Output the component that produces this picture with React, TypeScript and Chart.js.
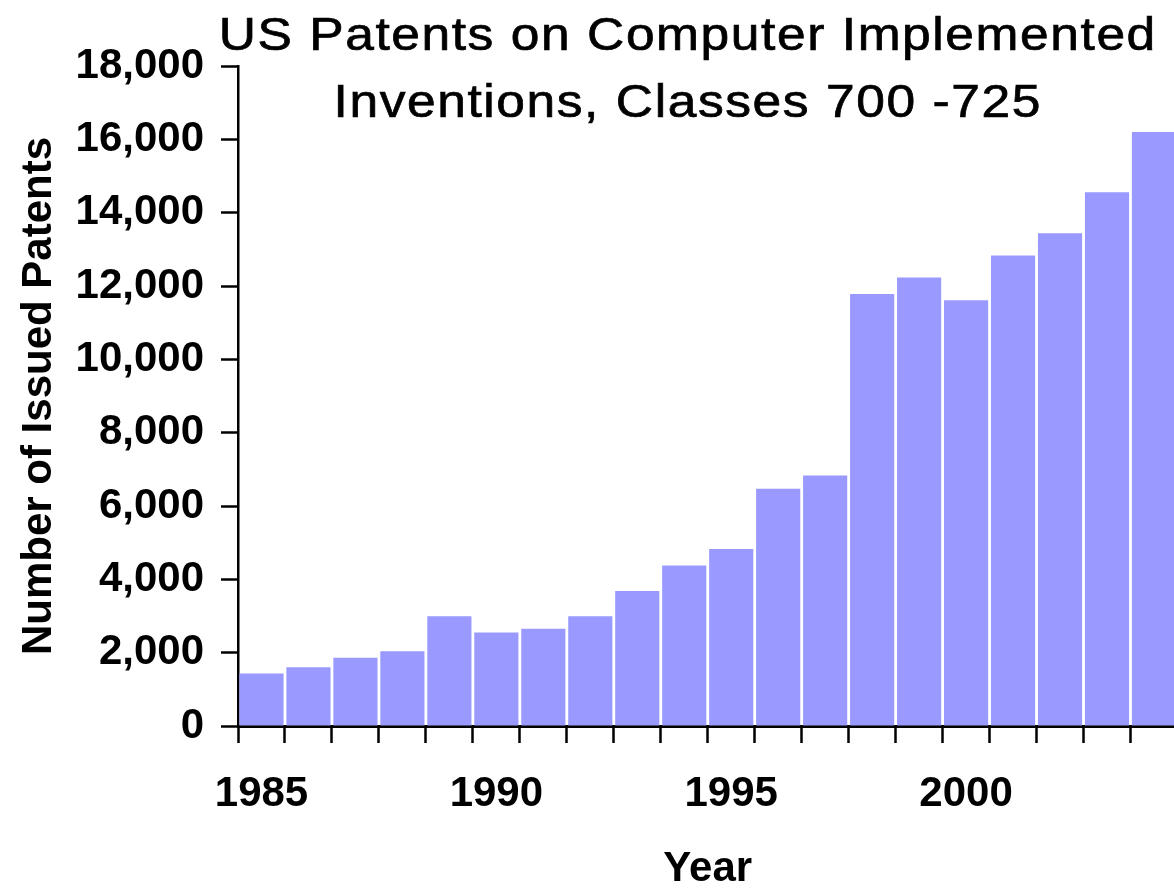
import React, { useEffect, useRef } from "react";
import { Chart, registerables } from "chart.js";

Chart.register(...registerables);

const years: number[] = [1985, 1986, 1987, 1988, 1989, 1990, 1991, 1992, 1993, 1994, 1995, 1996, 1997, 1998, 1999, 2000, 2001, 2002, 2003, 2004];
const patents: number[] = [1430, 1600, 1860, 2040, 2990, 2550, 2650, 2990, 3680, 4380, 4830, 6470, 6830, 11780, 12230, 11610, 12830, 13440, 14560, 16200];
const titleLines: string[] = ["US Patents on Computer Implemented", "Inventions, Classes 700 -725"];
const yTitle = "Number of Issued Patents";
const xTitle = "Year";

const FONT = "'Liberation Sans', Arial, sans-serif";

const titlePlugin = {
  id: "overlayTitle",
  afterDraw(chart: any) {
    const { ctx, chartArea } = chart;
    const sx = 1.12;
    ctx.save();
    ctx.font = `46px ${FONT}`;
    (ctx as any).letterSpacing = "1.4px";
    ctx.fillStyle = "#000";
    ctx.strokeStyle = "#000";
    ctx.lineWidth = 0.7;
    ctx.textAlign = "center";
    ctx.textBaseline = "alphabetic";
    const cx = (chartArea.left + chartArea.right) / 2 - 20;
    ctx.translate(cx, 0);
    ctx.scale(sx, 1);
    ctx.fillText(titleLines[0], 0, chartArea.top - 16);
    ctx.strokeText(titleLines[0], 0, chartArea.top - 16);
    ctx.fillText(titleLines[1], 0, chartArea.top + 51);
    ctx.strokeText(titleLines[1], 0, chartArea.top + 51);
    ctx.restore();
  },
};

export default function App() {
  const ref = useRef<HTMLCanvasElement | null>(null);
  useEffect(() => {
    if (!ref.current) return;
    const chart = new Chart(ref.current, {
      type: "bar",
      data: {
        labels: years.map(String),
        datasets: [
          {
            data: patents,
            backgroundColor: "#9999ff",
            borderWidth: 0,
            barPercentage: 0.94,
            categoryPercentage: 1,
          },
        ],
      },
      options: {
        responsive: false,
        animation: false,
        devicePixelRatio: 1,
        layout: { padding: { top: 66, right: 1, left: 0, bottom: 0 } },
        plugins: {
          legend: { display: false },
          title: { display: false },
          tooltip: { enabled: false },
        },
        scales: {
          x: {
            grid: {
              offset: true,
              drawOnChartArea: false,
              drawTicks: true,
              tickLength: 17,
              tickWidth: 2.5,
              tickColor: "#000",
              color: "#000",
            },
            border: { display: true, color: "#000", width: 3 },
            ticks: {
              autoSkip: false,
              maxRotation: 0,
              minRotation: 0,
              padding: 26,
              color: "#000",
              font: { family: FONT, size: 42, weight: "bold" },
              callback: (_v: any, i: number) => (years[i] % 5 === 0 ? String(years[i]) : ""),
            },
            title: {
              display: true,
              text: xTitle,
              color: "#000",
              font: { family: FONT, size: 42, weight: "bold", lineHeight: 1 },
              padding: { top: 0, bottom: -1 },
            },
            afterFit: (scale: any) => {
              scale.height = 163;
            },
          },
          y: {
            min: 0,
            max: 18000,
            grid: {
              drawOnChartArea: false,
              drawTicks: true,
              tickLength: 17,
              tickWidth: 2.5,
              tickColor: "#000",
              color: "#000",
            },
            border: { display: true, color: "#000", width: 2.5 },
            ticks: {
              stepSize: 2000,
              padding: 17,
              color: "#000",
              font: { family: FONT, size: 42, weight: "bold" },
              callback: (v: any) => Number(v).toLocaleString("en-US"),
            },
            title: {
              display: true,
              text: yTitle,
              color: "#000",
              font: { family: FONT, size: 42, weight: "bold", lineHeight: 1.2 },
              padding: { top: 14, bottom: 0 },
            },
            afterFit: (scale: any) => {
              scale.width = 238;
            },
          },
        },
      },
      plugins: [titlePlugin],
    } as any);
    return () => chart.destroy();
  }, []);
  return (
    <div style={{ position: "fixed", left: 0, top: 0, width: 1174, height: 889, overflow: "hidden", background: "#fff" }}>
      <canvas ref={ref} width={1180} height={889} style={{ display: "block", width: 1180, height: 889 }} />
    </div>
  );
}
